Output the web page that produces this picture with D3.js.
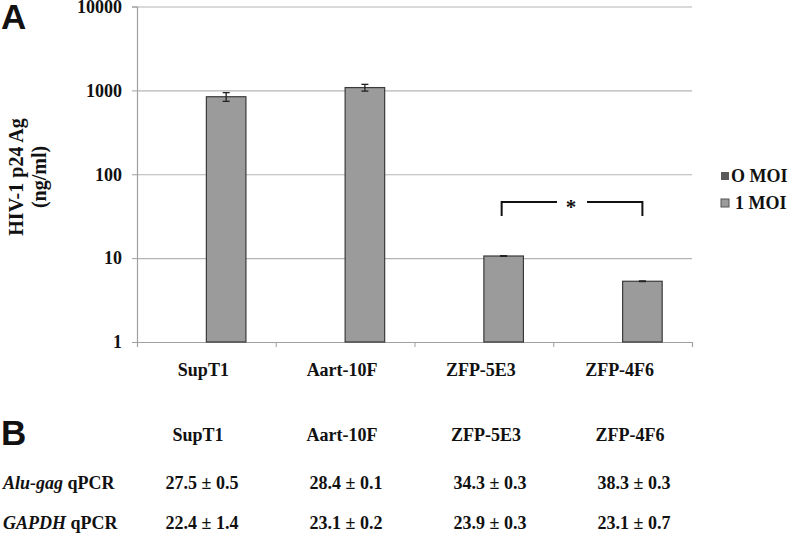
<!DOCTYPE html>
<html>
<head>
<meta charset="utf-8">
<script src="https://cdnjs.cloudflare.com/ajax/libs/d3/7.8.5/d3.min.js"></script>
<style>
  body { margin: 0; background: #fff; }
  text { font-family: "Liberation Serif", "Times New Roman", serif; font-weight: bold; fill: #111; }
  .panel { font-family: "Liberation Sans", Arial, sans-serif; font-size: 35px; }
</style>
</head>
<body>
<svg width="792" height="534"></svg>
<script>
// Chart data
let categories = ["SupT1", "Aart-10F", "ZFP-5E3", "ZFP-4F6"];
let seriesNames = ["O MOI", "1 MOI"];
let moi0 = [0, 0, 0, 0];
let moi1 = [840, 1080, 10.6, 5.3];
let moi1Err = [100, 100, 0.1, 0.05];
let yTicks = [1, 10, 100, 1000, 10000];

// Table data (panel B)
let rowLabels = [["Alu-gag", " qPCR"], ["GAPDH", " qPCR"]];
let aluGag = ["27.5 ± 0.5", "28.4 ± 0.1", "34.3 ± 0.3", "38.3 ± 0.3"];
let gapdh = ["22.4 ± 1.4", "23.1 ± 0.2", "23.9 ± 0.3", "23.1 ± 0.7"];

// significance bracket between the last two cell lines
let sigPair = ["ZFP-5E3", "ZFP-4F6"];

let svg = d3.select("svg");
let plotLeft = 137, plotRight = 692, plotTop = 6.5, plotBottom = 342;
let colors = { "O MOI": "#5a5a5a", "1 MOI": "#9b9b9b" };

// Scales
let xScale = d3.scaleBand()
  .domain(categories)
  .range([plotLeft, plotRight])
  .paddingInner(0.43)
  .paddingOuter(0.215);

let xSub = d3.scaleBand()
  .domain(seriesNames)
  .range([0, xScale.bandwidth()]);

let xEdges = d3.scaleLinear().domain([0, categories.length]).range([plotLeft, plotRight]);

let yScale = d3.scaleLog()
  .domain([1, 10000])
  .range([plotBottom, plotTop]);

// Gridlines
let grid = svg.append("g")
  .attr("transform", "translate(" + plotLeft + ",0)")
  .call(d3.axisLeft(yScale).tickValues(yTicks).tickSize(-(plotRight - plotLeft)).tickFormat(""));
grid.select(".domain").remove();
grid.selectAll("line").attr("stroke", "#b4b4b4").attr("stroke-width", 1.2);

// Y axis
let yAxis = svg.append("g")
  .attr("transform", "translate(" + plotLeft + ",0)")
  .call(d3.axisLeft(yScale).tickValues(yTicks).tickSize(5).tickPadding(10).tickFormat(d3.format("d")));
yAxis.select(".domain").attr("stroke", "#a0a0a0").attr("stroke-width", 1.2);
yAxis.selectAll("line").attr("stroke", "#a0a0a0");
yAxis.selectAll("text").style("font-size", "18px").attr("fill", "#111");

// X axis (ticks between categories)
let xAxis = svg.append("g")
  .attr("transform", "translate(0," + plotBottom + ")")
  .call(d3.axisBottom(xEdges).tickValues(d3.range(categories.length + 1)).tickSize(5).tickFormat(""));
xAxis.select(".domain").attr("stroke", "#a0a0a0").attr("stroke-width", 1.2);
xAxis.selectAll("line").attr("stroke", "#a0a0a0");

svg.append("g").selectAll("text")
  .data(categories)
  .join("text")
  .attr("x", (d) => xScale(d) + xScale.bandwidth() / 2 - 3)
  .attr("y", 376)
  .attr("text-anchor", "middle")
  .style("font-size", "18px")
  .text((d) => d);

// Bars
let barData = [];
categories.forEach((c, i) => {
  barData.push({ cat: c, series: "O MOI", value: moi0[i], err: 0 });
  barData.push({ cat: c, series: "1 MOI", value: moi1[i], err: moi1Err[i] });
});
let shown = barData.filter((d) => d.value >= 1);

svg.append("g").selectAll("rect")
  .data(shown)
  .join("rect")
  .attr("x", (d) => xScale(d.cat) + xSub(d.series))
  .attr("y", (d) => yScale(d.value))
  .attr("width", xSub.bandwidth())
  .attr("height", (d) => plotBottom - yScale(d.value))
  .attr("fill", (d) => colors[d.series])
  .attr("stroke", "#3a3a3a")
  .attr("stroke-width", 1.2);

// Error bars
let errG = svg.append("g").attr("stroke", "#222").attr("stroke-width", 1.3);
shown.forEach((d) => {
  let cx = xScale(d.cat) + xSub(d.series) + xSub.bandwidth() / 2;
  let y1 = yScale(d.value + d.err), y2 = yScale(d.value - d.err);
  errG.append("line").attr("x1", cx).attr("x2", cx).attr("y1", y1).attr("y2", y2);
  errG.append("line").attr("x1", cx - 3.5).attr("x2", cx + 3.5).attr("y1", y1).attr("y2", y1);
  errG.append("line").attr("x1", cx - 3.5).attr("x2", cx + 3.5).attr("y1", y2).attr("y2", y2);
});

// Significance bracket
let bx1 = xScale(sigPair[0]) + xSub("1 MOI") + xSub.bandwidth() / 2 - 2;
let bx2 = xScale(sigPair[1]) + xSub("1 MOI") + xSub.bandwidth() / 2;
let bTop = 202, bBot = 216, bMid = (bx1 + bx2) / 2;
let br = svg.append("g").attr("stroke", "#111").attr("stroke-width", 2).attr("fill", "none");
br.append("path").attr("d", "M" + bx1 + "," + bBot + "V" + bTop + "H" + (bMid - 15));
br.append("path").attr("d", "M" + (bMid + 15) + "," + bTop + "H" + bx2 + "V" + bBot);
svg.append("text")
  .attr("x", bMid - 1)
  .attr("y", 214)
  .attr("text-anchor", "middle")
  .style("font-size", "21px")
  .text("*");

// Y axis title
let title = svg.append("text")
  .attr("transform", "translate(23,177) rotate(-90)")
  .attr("text-anchor", "middle")
  .style("font-size", "20px");
title.append("tspan").attr("x", 0).attr("dy", 0).text("HIV-1 p24 Ag");
title.append("tspan").attr("x", 0).attr("dy", 23).text("(ng/ml)");

// Legend
let legend = svg.append("g").selectAll("g")
  .data(seriesNames)
  .join("g")
  .attr("transform", (d, i) => "translate(721," + (172 + i * 27) + ")");
legend.append("rect")
  .attr("width", 8)
  .attr("height", 8)
  .attr("fill", (d) => colors[d])
  .attr("stroke", (d, i) => (i === 0 ? "none" : "#555"));
legend.append("text")
  .attr("x", (d, i) => (i === 0 ? 10 : 14))
  .attr("y", 10)
  .style("font-size", "18px")
  .text((d) => d);

// Panel labels
svg.append("text").attr("class", "panel").attr("x", 1).attr("y", 29).text("A");
svg.append("text").attr("class", "panel").attr("x", 1).attr("y", 445).text("B");

// Table (panel B)
let tableX = d3.scalePoint().domain(categories).range([198, 630]);
let tbl = svg.append("g").style("font-size", "18px");
tbl.selectAll(".hdr")
  .data(categories)
  .join("text")
  .attr("class", "hdr")
  .attr("x", (d) => tableX(d))
  .attr("y", 441)
  .attr("text-anchor", "middle")
  .text((d) => d);

[aluGag, gapdh].forEach((row, r) => {
  let y = 489 + r * 40;
  let lbl = tbl.append("text").attr("x", 3).attr("y", y);
  lbl.append("tspan").style("font-style", "italic").text(rowLabels[r][0]);
  lbl.append("tspan").text(rowLabels[r][1]);
  tbl.append("g").selectAll("text")
    .data(row)
    .join("text")
    .attr("x", (d, i) => tableX(categories[i]) + 4)
    .attr("y", y)
    .attr("text-anchor", "middle")
    .text((d) => d);
});
</script>
</body>
</html>
